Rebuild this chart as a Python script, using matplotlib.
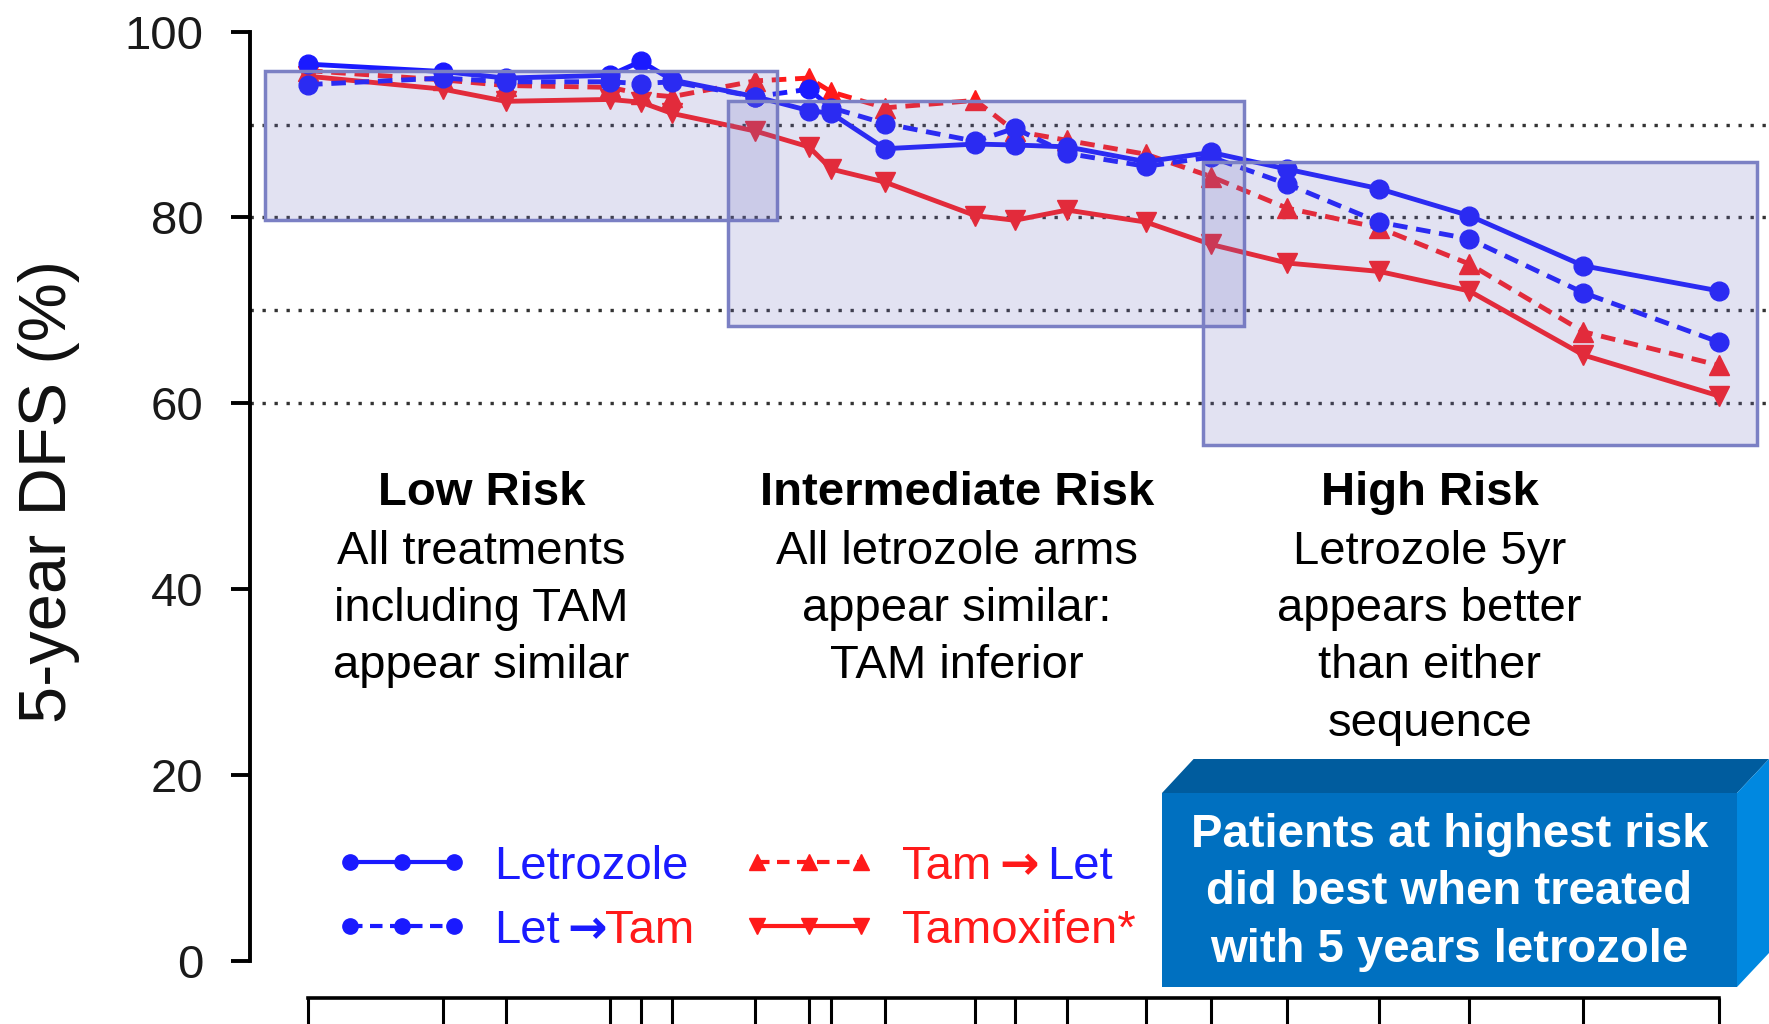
import matplotlib
matplotlib.use('Agg')
import matplotlib.pyplot as plt
from matplotlib import font_manager
from matplotlib.patches import Rectangle, Polygon
from matplotlib.lines import Line2D

# risk-score position of each subgroup (relative scale 0-100)
risk_pos = [0, 9.6, 14.0, 21.4, 23.6, 25.8, 31.7, 35.5, 37.1, 40.9,
            47.3, 50.1, 53.8, 59.4, 64.0, 69.4, 75.9, 82.3, 90.4, 100]

# 5-year DFS (%) per arm
letrozole = [96.5, 95.7, 95.0, 95.3, 96.8, 94.8, 93.0, 91.5, 91.2, 87.4,
             87.9, 87.8, 87.6, 86.0, 87.0, 85.2, 83.1, 80.2, 74.8, 72.1]
let_tam = [94.3, 95.0, 94.6, 94.6, 94.4, 94.6, 93.0, 93.8, 91.8, 90.1,
           88.2, 89.6, 86.9, 85.5, 86.5, 83.6, 79.5, 77.7, 71.9, 66.6]
tam_let = [95.8, 94.8, 94.2, 94.0, 93.3, 93.0, 94.7, 95.0, 93.5, 91.8,
           92.6, 89.3, 88.3, 86.8, 84.4, 81.0, 78.9, 75.0, 67.7, 64.1]
tamoxifen = [95.2, 93.8, 92.5, 92.7, 92.4, 91.2, 89.3, 87.6, 85.2, 83.8,
             80.2, 79.7, 80.8, 79.5, 77.1, 75.1, 74.2, 72.1, 65.2, 60.8]

# risk group regions (x range, y range)
group_x = [(-3.04, 33.26), (29.74, 66.36), (63.4, 102.7)]
group_y = [(79.7, 95.8), (68.3, 92.5), (55.5, 86.0)]
group_titles = ['Low Risk', 'Intermediate Risk', 'High Risk']
group_text = [['All treatments', 'including TAM', 'appear similar'],
              ['All letrozole arms', 'appear similar:', 'TAM inferior'],
              ['Letrozole 5yr', 'appears better', 'than either', 'sequence']]
group_center = [12.3, 46.0, 79.5]

callout = ['Patients at highest risk', 'did best when treated',
           'with 5 years letrozole']

BLUE = '#1a1aff'
RED = '#ff1a1a'

plt.rcParams['font.family'] = ['Liberation Sans', 'DejaVu Sans']
names = {f.name for f in font_manager.fontManager.ttflist}
if 'Liberation Sans Narrow' in names:
    narrow = ['Liberation Sans Narrow', 'DejaVu Sans']
    leg_fs, box_fs = 42, 40
else:
    narrow = ['Liberation Sans', 'DejaVu Sans']
    leg_fs, box_fs = 34, 34

W, H = 1769, 1024
fig = plt.figure(figsize=(W / 100, H / 100), dpi=100)
ax = fig.add_axes([250 / W, 63 / H, 1519 / W, 929.4 / H])


def fx(x):
    return x / W


def fy(y):
    return 1 - y / H


dash = (0, (3, 1.8))
ax.plot(risk_pos, tamoxifen, color=RED, lw=3.5, marker='v', ms=15, zorder=3)
ax.plot(risk_pos, tam_let, color=RED, lw=3.5, ls=dash, marker='^', ms=15, zorder=3)
ax.plot(risk_pos, let_tam, color=BLUE, lw=3.5, ls=dash, marker='o', ms=13.5, zorder=3)
ax.plot(risk_pos, letrozole, color=BLUE, lw=3.5, marker='o', ms=13.5, zorder=3)

for yv in [60, 70, 80, 90]:
    ax.axhline(yv, color='#333333', lw=2.4, ls=(0, (1, 2.6)), zorder=1)

for (x0, x1), (y0, y1) in zip(group_x, group_y):
    ax.add_patch(Rectangle((x0, y0), x1 - x0, y1 - y0, facecolor='#7070c0',
                           alpha=0.2, edgecolor='none', zorder=4))
    ax.add_patch(Rectangle((x0, y0), x1 - x0, y1 - y0, facecolor='none',
                           edgecolor='#7b80c4', lw=2.5, zorder=4))

for xc, title, lines in zip(group_center, group_titles, group_text):
    ax.text(xc, 50.4, title, ha='center', va='center', fontsize=34,
            fontweight='bold')
    for i, line in enumerate(lines):
        ax.text(xc, 44.0 - i * 6.15, line, ha='center', va='center', fontsize=34)

ax.set_xlim(-4.11, 103.55)
ax.set_ylim(0, 100)
ax.set_yticks([0, 20, 40, 60, 80, 100])
ax.set_xticks(risk_pos)
ax.set_xticklabels([])
ax.spines['top'].set_visible(False)
ax.spines['right'].set_visible(False)
ax.spines['left'].set_bounds(0, 100)
ax.spines['left'].set_linewidth(2.8)
ax.spines['bottom'].set_bounds(0, 100)
ax.spines['bottom'].set_linewidth(2.6)
ax.spines['bottom'].set_position(('outward', 26.6))
ax.tick_params(axis='y', length=13.7, width=2.8, pad=20, labelsize=34,
               labelcolor='#1a1a1a')
ax.tick_params(axis='x', length=19, width=2.2)
ax.set_ylabel('5-year DFS (%)', fontsize=48, color='#111111')
ax.yaxis.set_label_coords(-0.112, 0.505)

# legend
handles = [
    Line2D([], [], color=BLUE, lw=3, marker='o', ms=11),
    Line2D([], [], color=BLUE, lw=3, ls=dash, marker='o', ms=11),
    Line2D([], [], color=RED, lw=3, ls=dash, marker='^', ms=11),
    Line2D([], [], color=RED, lw=3, marker='v', ms=11),
]
labels = ['Letrozole', 'Let', 'Tam', 'Tamoxifen*']
leg = ax.legend(handles, labels, ncols=2, loc='upper left',
                bbox_to_anchor=(fx(336), fy(845)), bbox_transform=fig.transFigure,
                frameon=False, borderpad=0, borderaxespad=0, numpoints=3,
                handlelength=(75 + 0.6 * leg_fs) / leg_fs, handletextpad=0.55,
                labelspacing=0.42, columnspacing=1.15,
                prop={'family': narrow, 'size': leg_fs})
texts = leg.get_texts()
for t, c in zip(texts, [BLUE, BLUE, RED, RED]):
    t.set_color(c)

# arrows and the second half of the mixed-colour labels
arr1 = ax.annotate('\u2192', xy=(1, 0), xycoords=texts[1], xytext=(5, 0),
                   textcoords='offset points', ha='left', va='bottom', color=BLUE,
                   fontsize=leg_fs, family=['DejaVu Sans'], fontweight='bold',
                   zorder=7, annotation_clip=False)
ax.annotate('Tam', xy=(1, 0), xycoords=arr1, xytext=(-1, 0),
            textcoords='offset points', ha='left', va='bottom', color=RED,
            fontsize=leg_fs, family=narrow, zorder=8, annotation_clip=False)
arr2 = ax.annotate('\u2192', xy=(1, 0), xycoords=texts[2], xytext=(6, 0),
                   textcoords='offset points', ha='left', va='bottom', color=RED,
                   fontsize=leg_fs, family=['DejaVu Sans'], fontweight='bold',
                   zorder=7, annotation_clip=False)
ax.annotate('Let', xy=(1, 0), xycoords=arr2, xytext=(6, 0),
            textcoords='offset points', ha='left', va='bottom', color=BLUE,
            fontsize=leg_fs, family=narrow, zorder=8, annotation_clip=False)

# 3D callout box
fig.add_artist(Polygon([(fx(1162), fy(793)), (fx(1193.6), fy(759)),
                        (fx(1769), fy(759)), (fx(1737), fy(793))],
                       closed=True, facecolor='#005c9e', edgecolor='none',
                       transform=fig.transFigure, zorder=5))
fig.add_artist(Polygon([(fx(1737), fy(793)), (fx(1769), fy(759)),
                        (fx(1769), fy(953)), (fx(1737), fy(987))],
                       closed=True, facecolor='#0088e0', edgecolor='none',
                       transform=fig.transFigure, zorder=5))
fig.add_artist(Rectangle((fx(1162), fy(987)), fx(1737) - fx(1162), fy(793) - fy(987),
                         facecolor='#0070c0', edgecolor='none',
                         transform=fig.transFigure, zorder=5))
for i, line in enumerate(callout):
    fig.text(fx(1449.5), fy(835 + i * 57.5), line, ha='center', va='center',
             color='white', fontsize=box_fs, fontweight='bold', family=narrow,
             zorder=6)

fig.savefig('out.png', dpi=100)
